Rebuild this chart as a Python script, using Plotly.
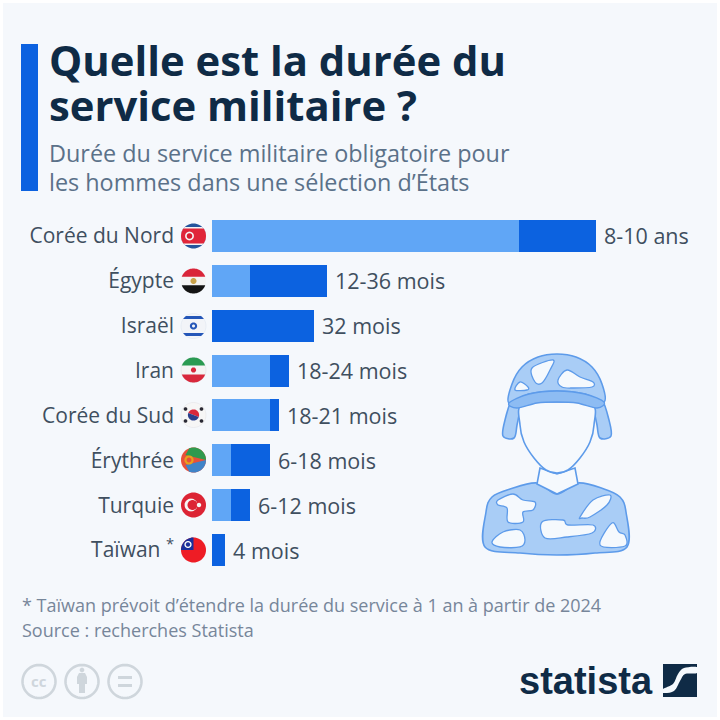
import math
import plotly.graph_objects as go

# Data
countries = ["Corée du Nord", "Égypte", "Israël", "Iran", "Corée du Sud", "Érythrée", "Turquie", "Taïwan <sup>*</sup>"]
min_months = [96, 12, 0, 18, 18, 6, 6, 0]
extra_months = [24, 24, 32, 6, 3, 12, 6, 4]
value_labels = ["8-10 ans", "12-36 mois", "32 mois", "18-24 mois", "18-21 mois", "6-18 mois", "6-12 mois", "4 mois"]
total_months = [a + b for a, b in zip(min_months, extra_months)]

title_lines = ["Quelle est la durée du", "service militaire ?"]
subtitle_lines = ["Durée du service militaire obligatoire pour", "les hommes dans une sélection d’États"]
note_lines = ["* Taïwan prévoit d’étendre la durée du service à 1 an à partir de 2024", "Source : recherches Statista"]

LIGHT = "#60a6f6"
DARK = "#0c62e0"
BG = "#f5f8fc"
NAVY = "#0f2b46"
FONT = "Open Sans"


def px(x):
    return x / 720


def py(y):
    return 1 - y / 720


def path(points, close=True):
    s = "M" + " L".join(f"{px(x):.5f},{py(y):.5f}" for x, y in points)
    return s + (" Z" if close else "")


def smooth_path(points):
    # closed catmull-rom curve through the points
    n = len(points)
    s = f"M{px(points[0][0]):.5f},{py(points[0][1]):.5f}"
    for i in range(n):
        p0, p1, p2, p3 = points[i - 1], points[i], points[(i + 1) % n], points[(i + 2) % n]
        c1 = (p1[0] + (p2[0] - p0[0]) / 6, p1[1] + (p2[1] - p0[1]) / 6)
        c2 = (p2[0] - (p3[0] - p1[0]) / 6, p2[1] - (p3[1] - p1[1]) / 6)
        s += (f" C{px(c1[0]):.5f},{py(c1[1]):.5f} {px(c2[0]):.5f},{py(c2[1]):.5f}"
              f" {px(p2[0]):.5f},{py(p2[1]):.5f}")
    return s + " Z"


def circle_pts(cx, cy, r, a0=0, a1=360, n=48):
    return [(cx + r * math.cos(math.radians(a0 + (a1 - a0) * i / n)),
             cy + r * math.sin(math.radians(a0 + (a1 - a0) * i / n))) for i in range(n + 1)]


def band(cx, cy, r, y0, y1):
    # horizontal slice of a circle, y0/y1 are offsets from the centre
    top = math.degrees(math.asin(max(-1, min(1, y0 / r))))
    bot = math.degrees(math.asin(max(-1, min(1, y1 / r))))
    right = circle_pts(cx, cy, r, top, bot, 16)
    left = circle_pts(cx, cy, r, 180 - bot, 180 - top, 16)
    return right + left


shapes = []


def poly(points, fill, line=None, width=0, close=True):
    shapes.append(dict(type="path", path=path(points, close), xref="paper", yref="paper",
                       fillcolor=fill, line=dict(color=line or fill, width=width), layer="above"))


def blob(points, fill, line=None, width=0):
    shapes.append(dict(type="path", path=smooth_path(points), xref="paper", yref="paper",
                       fillcolor=fill, line=dict(color=line or fill, width=width), layer="above"))


def disc(cx, cy, r, fill, line=None, width=0):
    poly(circle_pts(cx, cy, r), fill, line, width)


# background + accent bar
shapes.append(dict(type="rect", xref="paper", yref="paper", x0=px(3), x1=px(717), y0=py(717), y1=py(3),
                   fillcolor=BG, line_width=0, layer="below"))
shapes.append(dict(type="rect", xref="paper", yref="paper", x0=px(21), x1=px(38), y0=py(191), y1=py(44),
                   fillcolor=DARK, line_width=0, layer="below"))

# flags
FX, FR = 193.5, 12.5
fy = [236, 281, 326, 370, 415, 460, 505, 550]

# Corée du Nord
c = fy[0]
disc(FX, c, FR, "#24549c")
poly(band(FX, c, FR, -9, 9), "#f4f4f4")
poly(band(FX, c, FR, -7.5, 7.5), "#e0263a")
disc(FX - 4, c, 4.4, "#f4f4f4")
disc(FX - 4, c, 2.8, "#d81e30")
# Égypte
c = fy[1]
disc(FX, c, FR, "#f4f4f4")
poly(band(FX, c, FR, -FR, -4.2), "#d9253a")
poly(band(FX, c, FR, 4.2, FR), "#141414")
disc(FX, c, 3, "#c9a24a")
# Israël
c = fy[2]
disc(FX, c, FR, "#f2f4f8", "#dfe5f0", 0.6)
poly(band(FX, c, FR, -10, -7), "#2456b8")
poly(band(FX, c, FR, 7, 10), "#2456b8")
disc(FX, c, 3.6, "#2456b8")
disc(FX, c, 1.5, "#f2f4f8")
# Iran
c = fy[3]
disc(FX, c, FR, "#f4f4f4", "#dde2e6", 0.6)
poly(band(FX, c, FR, -FR, -4.5), "#2a9a52")
poly(band(FX, c, FR, 4.5, FR), "#d8283c")
disc(FX, c, 2.6, "#d8283c")
# Corée du Sud
c = fy[4]
disc(FX, c, FR, "#f6f6f6", "#e4e4e8", 0.6)
poly(circle_pts(FX, c, 5.6, 200, 380), "#d8283c")
poly(circle_pts(FX, c, 5.6, 20, 200), "#2a3f8c")
for dx, dy in [(-8, -6), (8, -6), (-8, 6), (8, 6)]:
    disc(FX + dx, c + dy, 1.8, "#2a2a35")
# Érythrée
c = fy[5]
disc(FX, c, FR, "#e8503a")
poly(circle_pts(FX, c, FR, -110, 0, 12) + [(FX - 8, c - 5)], "#2f9a4e")
poly(circle_pts(FX, c, FR, 0, 110, 12) + [(FX - 8, c + 5)], "#3f83c8")
disc(FX - 4.5, c, 4.6, "#e8a01e")
disc(FX - 4.5, c, 2.4, "#e8503a")
# Turquie
c = fy[6]
disc(FX, c, FR, "#dc2434")
disc(FX - 2.5, c, 6.4, "#f6f6f6")
disc(FX - 1, c, 5, "#dc2434")
disc(FX + 5.5, c, 2.2, "#f6f6f6")
# Taïwan
c = fy[7]
disc(FX, c, FR, "#ee1c25")
poly(circle_pts(FX, c, FR, 180, 270, 12) + [(FX, c)], "#1a2f9c")
disc(FX - 5.5, c - 5.5, 3.6, "#f6f6f6")
disc(FX - 5.5, c - 5.5, 2.2, "#1a2f9c")

# soldier
SOFT = "#a9cdf6"
EDGE = "#5d9bea"
WHITE = "#f5f9fd"
# body
blob([(537, 483), (510, 489), (492, 497), (486, 512), (485, 547), (520, 553), (557, 555), (595, 553), (627, 547),
      (626, 512), (620, 497), (604, 489), (578, 483), (557, 494)], SOFT, EDGE, 1.6)
# neck
poly([(540, 468), (537, 484), (557, 494), (578, 484), (575, 468), (557, 474)], WHITE, EDGE, 1.6)
# ear flaps
blob([(512, 400), (505, 420), (503, 436), (514, 438), (517, 425), (520, 405)], SOFT, EDGE, 1.6)
blob([(602, 400), (609, 420), (611, 436), (600, 438), (597, 425), (594, 405)], SOFT, EDGE, 1.6)
# face
blob([(522, 404), (557, 402), (592, 404), (594, 425), (590, 442), (580, 458), (568, 470), (557, 473),
      (546, 470), (534, 458), (524, 442), (520, 425)], WHITE, EDGE, 1.6)
# helmet dome
blob([(509, 403), (512, 384), (522, 367), (538, 357), (557, 354), (576, 357), (592, 367), (602, 384), (604, 402),
      (585, 394), (557, 391), (529, 394)], SOFT, EDGE, 1.6)
# brim
blob([(509, 403), (529, 394), (557, 391), (585, 394), (604, 402), (597, 408), (577, 403), (557, 402), (537, 403),
      (517, 408)], "#8dbcf3", EDGE, 1.3)
# camouflage patches
patches = [
    [(532, 368), (553, 360), (550, 370), (542, 383), (535, 382)],
    [(558, 380), (567, 370), (580, 377), (593, 382), (592, 387), (573, 388), (562, 387)],
    [(515, 390), (520, 382), (528, 387), (527, 390)],
    [(498, 500), (513, 494), (523, 500), (535, 502), (533, 510), (523, 512), (523, 522), (508, 522), (507, 508), (498, 505)],
    [(492, 542), (503, 532), (520, 530), (525, 540), (520, 547), (500, 547)],
    [(542, 522), (563, 520), (568, 525), (593, 525), (592, 533), (567, 537), (545, 538)],
    [(580, 517), (593, 500), (610, 495), (607, 505), (590, 517), (582, 518)],
    [(600, 545), (612, 523), (619, 532), (625, 535), (625, 546)],
]
for p in patches:
    blob(p, WHITE, EDGE, 1.3)

# cc icons
ICON = "#cfd6dc"
for cx in [39, 82, 125]:
    poly(circle_pts(cx, 681.5, 16.5), "rgba(0,0,0,0)", ICON, 2.6)
poly([(79, 673), (85, 673), (87, 677), (87, 684), (85, 684), (85, 693), (79, 693), (79, 684), (77, 684), (77, 677)], ICON)
disc(82, 670, 2.3, ICON)
poly([(118, 676), (132, 676), (132, 679), (118, 679)], ICON)
poly([(118, 684), (132, 684), (132, 687), (118, 687)], ICON)

# statista mark
poly([(663, 664), (697, 664), (697, 697), (663, 697)], NAVY)
blob([(697, 667), (684, 668), (678, 674), (673, 684), (663, 689), (663, 693), (674, 691), (680, 681), (685, 674), (697, 673)], WHITE)

fig = go.Figure()
fig.add_bar(y=countries, x=min_months, orientation="h", marker=dict(color=LIGHT, line_width=0), hoverinfo="skip")
fig.add_bar(y=countries, x=extra_months, orientation="h", marker=dict(color=DARK, line_width=0), hoverinfo="skip")

annotations = []

# value labels sit just past the end of each bar
for name, total, txt in zip(countries, total_months, value_labels):
    annotations.append(dict(xref="x", yref="y", x=total, y=name, text=txt, showarrow=False,
                            xanchor="left", yanchor="middle", xshift=6, yshift=0,
                            font=dict(family=FONT, size=21.5, color="#3f4f5f")))


def label(x, y, text, size, color, weight=400, family=FONT, anchor="left"):
    annotations.append(dict(xref="paper", yref="paper", x=px(x), y=py(y), text=text, showarrow=False,
                            xanchor=anchor, yanchor="middle", align="left",
                            font=dict(family=family, size=size, color=color, weight=weight)))


label(47, 59, title_lines[0], 41.8, NAVY, 700)
label(47, 104.5, title_lines[1], 41.8, NAVY, 700)
label(47, 153, subtitle_lines[0], 23.4, "#5b7189")
label(47, 182, subtitle_lines[1], 23.4, "#5b7189")
label(20, 605, note_lines[0], 18, "#77869a")
label(20, 630, note_lines[1], 18, "#77869a")
label(517, 681, "statista", 38, NAVY, 700, "Liberation Sans")
label(39, 681, "cc", 15, ICON, 700, FONT, "center")

fig.update_layout(
    width=720, height=720, autosize=False,
    margin=dict(l=0, r=0, t=0, b=0, pad=0),
    paper_bgcolor="white", plot_bgcolor="rgba(0,0,0,0)",
    barmode="stack", bargap=0.287, showlegend=False,
    xaxis=dict(domain=[px(212), px(712)], range=[0, 500 / 3.2], visible=False, fixedrange=True),
    yaxis=dict(domain=[py(572.5), py(213.5)], autorange="reversed", showline=False, showgrid=False,
               ticks="", ticklabelstandoff=37, tickfont=dict(family=FONT, size=21, color="#3f4f5f"),
               fixedrange=True, automargin=False),
    shapes=shapes, annotations=annotations,
)

fig.write_html("out.html", config=dict(displayModeBar=False),
               post_script="document.body.style.margin='0';document.body.style.overflow='hidden';")
